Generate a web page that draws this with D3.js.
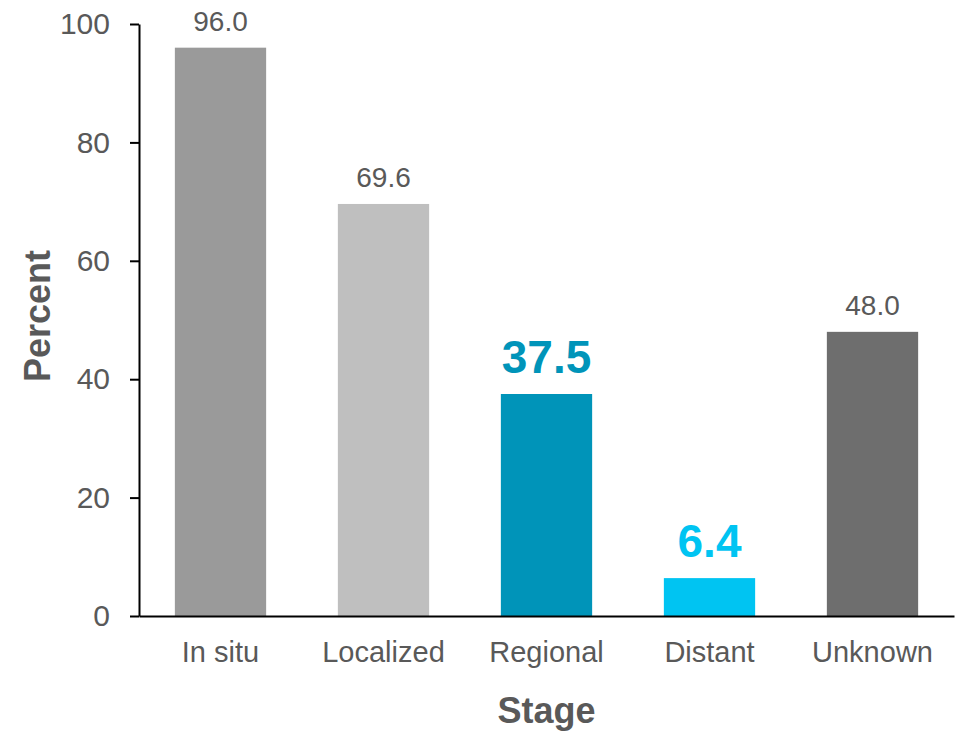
<!DOCTYPE html>
<html>
<head>
<meta charset="utf-8">
<script src="https://cdn.jsdelivr.net/npm/d3@7"></script>
<style>
  html, body { margin: 0; padding: 0; background: #fff; }
  svg { display: block; font-family: "Liberation Sans", Arial, sans-serif; }
</style>
</head>
<body>
<svg id="chart" width="961" height="734"></svg>
<script>
// Survival percent by stage at diagnosis
const stages = ["In situ", "Localized", "Regional", "Distant", "Unknown"];
const percents = [96.0, 69.6, 37.5, 6.4, 48.0];
const barColors = ["#9a9a9a", "#bfbfbf", "#0094b9", "#00c4f2", "#6e6e6e"];
// Highlighted stages get large bold labels in their bar colour
const highlighted = [false, false, true, true, false];
const yTicks = [0, 20, 40, 60, 80, 100];

const svg = d3.select("#chart");
const plot = { left: 139, right: 954, top: 24, bottom: 616 };
const textGray = "#595959";

const x = d3.scaleBand()
  .domain(stages)
  .range([plot.left, plot.right])
  .paddingInner(0.44)
  .paddingOuter(0.22);

const y = d3.scaleLinear()
  .domain([0, 100])
  .range([plot.bottom, plot.top]);

// Bars
svg.append("g")
  .selectAll("rect")
  .data(stages)
  .join("rect")
  .attr("x", d => x(d))
  .attr("width", x.bandwidth())
  .attr("y", (d, i) => y(percents[i]))
  .attr("height", (d, i) => y(0) - y(percents[i]))
  .attr("fill", (d, i) => barColors[i]);

// Value labels
svg.append("g")
  .selectAll("text")
  .data(stages)
  .join("text")
  .attr("x", d => x(d) + x.bandwidth() / 2)
  .attr("y", (d, i) => y(percents[i]) - (highlighted[i] ? 21 : 17))
  .attr("text-anchor", "middle")
  .attr("font-size", (d, i) => highlighted[i] ? 46 : 28)
  .attr("font-weight", (d, i) => highlighted[i] ? "bold" : "normal")
  .attr("fill", (d, i) => highlighted[i] ? barColors[i] : textGray)
  .text((d, i) => percents[i].toFixed(1));

// Y axis
const yAxis = svg.append("g")
  .attr("transform", `translate(${plot.left},0)`)
  .call(d3.axisLeft(y).tickValues(yTicks).tickSize(9).tickPadding(20).tickSizeOuter(0));
yAxis.select(".domain").attr("stroke", "#000").attr("stroke-width", 2);
yAxis.selectAll(".tick line").attr("stroke", "#000").attr("stroke-width", 2);
yAxis.selectAll(".tick text")
  .attr("font-size", 30)
  .attr("font-family", "Liberation Sans, Arial, sans-serif")
  .attr("fill", textGray);

// X axis
const xAxis = svg.append("g")
  .attr("transform", `translate(0,${plot.bottom})`)
  .call(d3.axisBottom(x).tickSize(0).tickPadding(25).tickSizeOuter(0));
xAxis.select(".domain").attr("stroke", "#000").attr("stroke-width", 2);
xAxis.selectAll(".tick text")
  .attr("font-size", 29)
  .attr("font-family", "Liberation Sans, Arial, sans-serif")
  .attr("fill", textGray);

// Axis titles
svg.append("text")
  .attr("x", (plot.left + plot.right) / 2)
  .attr("y", 723)
  .attr("text-anchor", "middle")
  .attr("font-size", 36)
  .attr("font-weight", "bold")
  .attr("fill", textGray)
  .text("Stage");

svg.append("text")
  .attr("transform", `translate(50,${(plot.top + plot.bottom) / 2 - 4}) rotate(-90)`)
  .attr("text-anchor", "middle")
  .attr("font-size", 36)
  .attr("font-weight", "bold")
  .attr("fill", textGray)
  .text("Percent");
</script>
</body>
</html>
